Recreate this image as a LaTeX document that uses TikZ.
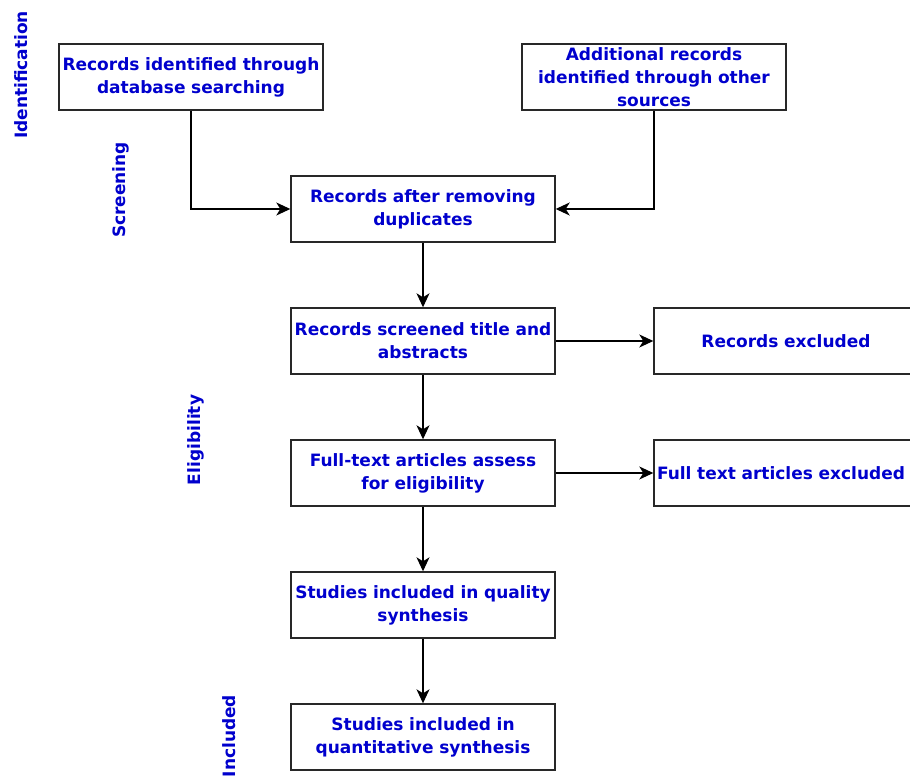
\documentclass[tikz,border=0pt]{standalone}
\usepackage{fontspec}
\setmainfont{DejaVu Sans}
\usetikzlibrary{arrows.meta}
\definecolor{txtblue}{RGB}{0,0,205}
\definecolor{edge}{RGB}{40,40,40}
\begin{document}
\begin{tikzpicture}[x=1pt,y=-1pt,
  box/.style={draw=edge, line width=1.4pt, minimum width=264pt, minimum height=66pt,
    text width=258pt, inner sep=3pt, align=center,
    font=\fontsize{17}{23}\selectfont\bfseries, text=txtblue},
  stage/.style={rotate=90, font=\fontsize{17}{18}\selectfont\bfseries, text=txtblue, inner sep=0pt},
  arr/.style={draw=black, line width=1.3pt, -{Stealth[length=14pt,width=13pt,inset=4pt]}}]
\useasboundingbox (0,0) rectangle (910,778);
\node[box] (A) at (191,77) {Records identified through\\database searching};
\node[box] (B) at (654,77) {Additional records\\identified through other\\sources};
\node[box] (C) at (423,209) {Records after removing\\duplicates};
\node[box] (D) at (423,341) {Records screened title and\\abstracts};
\node[box] (E) at (786,341) {Records excluded};
\node[box, align=left] (G) at (786,473) {Full text articles excluded};
\node[box] (F) at (423,473) {Full-text articles assess\\for eligibility};
\node[box] (H) at (423,605) {Studies included in quality\\synthesis};
\node[box] (I) at (423,737) {Studies included in\\quantitative synthesis};
\node[stage] (s1) at (21,75) {Identification};
\node[stage] (s2) at (121,190) {Screening};
\node[stage] (s3) at (196,440) {Eligibility};
\node[stage] (s4) at (229,736) {Included};
\draw[arr] (A.south) |- (C.west);
\draw[arr] (B.south) |- (C.east);
\draw[arr] (C) -- (D);
\draw[arr] (D) -- (E);
\draw[arr] (D) -- (F);
\draw[arr] (F) -- (G);
\draw[arr] (F) -- (H);
\draw[arr] (H) -- (I);
\end{tikzpicture}
\end{document}
